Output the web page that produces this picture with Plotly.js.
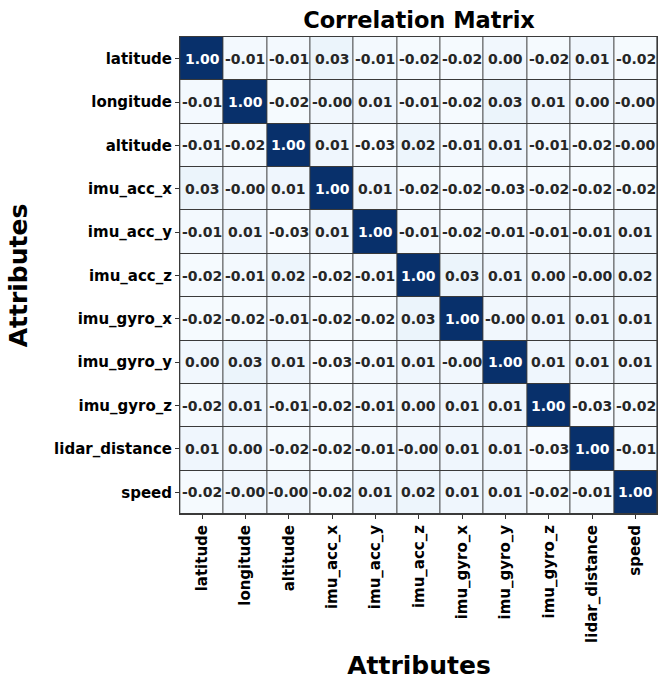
<!DOCTYPE html>
<html>
<head>
<meta charset="utf-8">
<script src="https://cdn.plot.ly/plotly-3.0.1.min.js"></script>
<style>html,body{margin:0;padding:0;background:#fff;}#chart{width:658px;height:684px;}</style>
</head>
<body>
<div id="chart"></div>
<script>
const attributes = ["latitude","longitude","altitude","imu_acc_x","imu_acc_y","imu_acc_z","imu_gyro_x","imu_gyro_y","imu_gyro_z","lidar_distance","speed"];

const row_latitude       = ["1.00","-0.01","-0.01","0.03","-0.01","-0.02","-0.02","0.00","-0.02","0.01","-0.02"];
const row_longitude      = ["-0.01","1.00","-0.02","-0.00","0.01","-0.01","-0.02","0.03","0.01","0.00","-0.00"];
const row_altitude       = ["-0.01","-0.02","1.00","0.01","-0.03","0.02","-0.01","0.01","-0.01","-0.02","-0.00"];
const row_imu_acc_x      = ["0.03","-0.00","0.01","1.00","0.01","-0.02","-0.02","-0.03","-0.02","-0.02","-0.02"];
const row_imu_acc_y      = ["-0.01","0.01","-0.03","0.01","1.00","-0.01","-0.02","-0.01","-0.01","-0.01","0.01"];
const row_imu_acc_z      = ["-0.02","-0.01","0.02","-0.02","-0.01","1.00","0.03","0.01","0.00","-0.00","0.02"];
const row_imu_gyro_x     = ["-0.02","-0.02","-0.01","-0.02","-0.02","0.03","1.00","-0.00","0.01","0.01","0.01"];
const row_imu_gyro_y     = ["0.00","0.03","0.01","-0.03","-0.01","0.01","-0.00","1.00","0.01","0.01","0.01"];
const row_imu_gyro_z     = ["-0.02","0.01","-0.01","-0.02","-0.01","0.00","0.01","0.01","1.00","-0.03","-0.02"];
const row_lidar_distance = ["0.01","0.00","-0.02","-0.02","-0.01","-0.00","0.01","0.01","-0.03","1.00","-0.01"];
const row_speed          = ["-0.02","-0.00","-0.00","-0.02","0.01","0.02","0.01","0.01","-0.02","-0.01","1.00"];

const labels = [row_latitude,row_longitude,row_altitude,row_imu_acc_x,row_imu_acc_y,row_imu_acc_z,
                row_imu_gyro_x,row_imu_gyro_y,row_imu_gyro_z,row_lidar_distance,row_speed];
const z = labels.map(r => r.map(v => parseFloat(v)));

const blues = [
  [0.0,"#f7fbff"],[0.125,"#deebf7"],[0.25,"#c6dbef"],[0.375,"#9ecae1"],
  [0.5,"#6baed6"],[0.625,"#4292c6"],[0.75,"#2171b5"],[0.875,"#08519c"],[1.0,"#08306b"]
];
const flat = z.flat();
const zmin = Math.min(...flat), zmax = Math.max(...flat);

const FONT = "DejaVu Sans, sans-serif";
const annotations = [];
for (let i = 0; i < attributes.length; i++) {
  for (let j = 0; j < attributes.length; j++) {
    const v = z[i][j];
    annotations.push({
      x: attributes[j], y: attributes[i], xref: "x", yref: "y",
      text: "<b>" + labels[i][j] + "</b>", showarrow: false,
      font: {family: FONT, size: 14, color: (v - zmin) / (zmax - zmin) > 0.5 ? "#ffffff" : "#262626"}
    });
  }
}

const trace = {
  type: "heatmap",
  x: attributes, y: attributes, z: z,
  colorscale: blues, zmin: zmin, zmax: zmax,
  showscale: false, xgap: 1, ygap: 1, hoverongaps: false
};

const layout = {
  width: 658, height: 684,
  margin: {l: 180, r: 0, t: 37, b: 170, pad: 0},
  paper_bgcolor: "#ffffff", plot_bgcolor: "#3a3a3a",
  font: {family: FONT, color: "#000"},
  title: {text: "<b>Correlation Matrix</b>", font: {family: FONT, size: 22.5, color: "#000"},
          x: 0.5, xanchor: "center", y: 0.971, yanchor: "middle", xref: "paper"},
  xaxis: {
    type: "category", tickangle: -90, ticks: "outside", ticklen: 4, tickcolor: "#333",
    tickfont: {family: FONT, size: 15, color: "#000"},
    tickprefix: "<b>", ticksuffix: "</b>",
    showline: true, mirror: true, linecolor: "#3a3a3a", linewidth: 1, showgrid: false, zeroline: false,
    title: {text: "<b>Attributes</b>", font: {family: FONT, size: 25, color: "#000"}, standoff: 14},
    automargin: false
  },
  yaxis: {
    type: "category", autorange: "reversed", ticks: "outside", ticklen: 4, tickcolor: "#333",
    tickfont: {family: FONT, size: 15, color: "#000"},
    tickprefix: "<b>", ticksuffix: "</b>",
    showline: true, mirror: true, linecolor: "#3a3a3a", linewidth: 1, showgrid: false, zeroline: false,
    title: {text: "<b>Attributes</b>", font: {family: FONT, size: 25, color: "#000"}, standoff: 19},
    automargin: false
  },
  annotations: annotations
};

Plotly.newPlot("chart", [trace], layout, {displayModeBar: false, staticPlot: true});
</script>
</body>
</html>
